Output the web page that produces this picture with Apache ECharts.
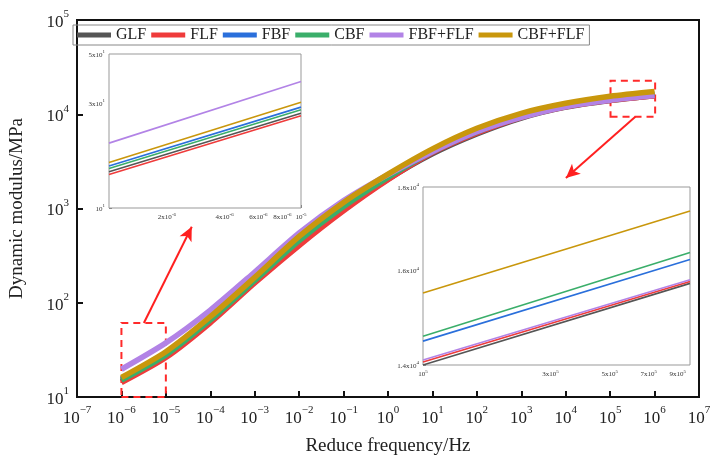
<!DOCTYPE html>
<html><head><meta charset="utf-8">
<script src="https://cdn.jsdelivr.net/npm/echarts@6/dist/echarts.min.js"></script>
<style>html,body{margin:0;padding:0;background:#fff}#c{width:722px;height:466px}</style>
</head><body><div id="c"></div>
<script>
// ---- data ----
const freq = [1e-6,1e-5,1e-4,1e-3,1e-2,1e-1,1,10,100,1e3,1e4,1e5,1e6];
const seriesNames = ['GLF','FLF','FBF','CBF','FBF+FLF','CBF+FLF'];
const GLF    = [14.6,26.9,63.4,166,425,977,2042,3802,6180,9120,11912,14000,15710];
const FLF    = [14.2,26.2,61.2,162,405,944,2018,3917,6324,9268,11967,14060,15750];
const FBF    = [15.5,28.7,67.1,176,465,1072,2163,4027,6531,9484,12303,14480,16250];
const CBF    = [15.1,27.9,65.6,172,455,1047,2138,4009,6531,9528,12359,14580,16410];
const FBF_FLF= [19.7,37.5,83.6,212,550,1215,2291,4009,6531,9268,12023,14100,15790];
const CBF_FLF= [16.1,30.2,71.1,186,505,1161,2317,4295,7096,10233,13062,15500,17400];
const inset1XTicks = [2e-6,4e-6,6e-6,8e-6,1e-5];
const inset1XLabels = [['2x10','-6'],['4x10','-6'],['6x10','-6'],['8x10','-6'],['10','-5']];
const inset1YTicks = [10,30,50];
const inset1YLabels = [['10','1'],['3x10','1'],['5x10','1']];
const inset2XTicks = [1e5,3e5,5e5,7e5,9e5];
const inset2XLabels = [['10','5'],['3x10','5'],['5x10','5'],['7x10','5'],['9x10','5']];
const inset2YTicks = [14000,16000,18000];
const inset2YLabels = [['1.4x10','4'],['1.6x10','4'],['1.8x10','4']];
const zoomBoxes = [[[1e-6,10],[1e-5,61]],[[1.02e5,9400],[1.03e6,22700]]];
const arrows = [[[3.2e-6,61],[3.83e-5,641]],[[3.69e5,9400],[1.01e4,2110]]];
// ---- style ----
const colors = ['#555555','#ef3b3b','#2a6fdb','#3aae6a','#b283e6','#c9970c'];
const allData = [GLF,FLF,FBF,CBF,FBF_FLF,CBF_FLF];
const SERIF = 'Liberation Serif';

function sup(b, s){ return '{b|'+b+'}{s|'+s+'}'; }
const mainRich = {
  b:{fontFamily:SERIF,fontSize:17,color:'#222',lineHeight:22,verticalAlign:'bottom'},
  s:{fontFamily:SERIF,fontSize:11,color:'#222',lineHeight:12,verticalAlign:'top'}
};
const smallRich = {
  b:{fontFamily:SERIF,fontSize:7,color:'#333',lineHeight:9,verticalAlign:'bottom'},
  s:{fontFamily:SERIF,fontSize:5,color:'#333',lineHeight:5,verticalAlign:'top'}
};
function expFmt(v){ const e = Math.round(Math.log10(v)); return sup('10', e<0 ? '\u2212'+(-e) : e); }
function lookupFmt(ticks, labels){
  const logs = ticks.map(Math.log10);
  return function(v){
    for (let i=0;i<logs.length;i++) if (Math.abs(logs[i]-v)<1e-6) return sup(labels[i][0], labels[i][1]);
    return '';
  };
}
const L10 = a => a.map(Math.log10);
const hidden = {axisLine:{show:false},axisTick:{show:false},axisLabel:{show:false},splitLine:{show:false}};

const grids = [
  {left:72,right:23,top:20,bottom:69,show:true,borderColor:'#111',borderWidth:2},
  {left:109,right:421,top:54,bottom:258,show:true,borderColor:'#999',borderWidth:1,backgroundColor:'#fff',z:3},
  {left:423,right:32,top:187,bottom:101,show:true,borderColor:'#999',borderWidth:1,backgroundColor:'#fff',z:3}
];

const xAxes = [
  Object.assign({type:'log',gridIndex:0,position:'bottom',min:1e-7,max:1e7,interval:1,logBase:10,
   name:'Reduce frequency/Hz',nameLocation:'middle',nameGap:40,
   nameTextStyle:{fontFamily:SERIF,fontSize:19,color:'#222'}},
   {axisLine:{show:false},axisTick:{inside:true,length:6,lineStyle:{width:2,color:'#111'}},
   axisLabel:{margin:8,formatter:expFmt,rich:mainRich},splitLine:{show:false}}),
  Object.assign({type:'log',gridIndex:1,position:'top',min:1e-6,max:1e-5}, hidden),
  {type:'value',gridIndex:1,position:'bottom',min:-6,max:-5,axisLine:{show:false},
   axisTick:{inside:true,length:3,lineStyle:{color:'#777'},customValues:L10(inset1XTicks)},
   axisLabel:{margin:4,customValues:L10(inset1XTicks),formatter:lookupFmt(inset1XTicks,inset1XLabels),rich:smallRich},splitLine:{show:false}},
  Object.assign({type:'log',gridIndex:2,position:'top',min:1e5,max:1e6}, hidden),
  {type:'value',gridIndex:2,position:'bottom',min:5,max:6,axisLine:{show:false},
   axisTick:{inside:true,length:3,lineStyle:{color:'#777'},customValues:L10(inset2XTicks)},
   axisLabel:{margin:4,customValues:L10(inset2XTicks),formatter:lookupFmt(inset2XTicks,inset2XLabels),rich:smallRich},splitLine:{show:false}}
];
const yAxes = [
  {type:'log',gridIndex:0,position:'left',min:10,max:1e5,interval:1,logBase:10,
   name:'Dynamic modulus/MPa',nameLocation:'middle',nameGap:50,
   nameTextStyle:{fontFamily:SERIF,fontSize:19,color:'#222'},
   axisLine:{show:false},axisTick:{inside:true,length:6,lineStyle:{width:2,color:'#111'}},
   axisLabel:{margin:8,formatter:expFmt,rich:mainRich},splitLine:{show:false}},
  Object.assign({type:'log',gridIndex:1,position:'right',min:10,max:50}, hidden),
  {type:'value',gridIndex:1,position:'left',min:1,max:Math.log10(50),axisLine:{show:false},
   axisTick:{inside:true,length:3,lineStyle:{color:'#777'},customValues:L10(inset1YTicks)},
   axisLabel:{margin:4,customValues:L10(inset1YTicks),formatter:lookupFmt(inset1YTicks,inset1YLabels),rich:smallRich},splitLine:{show:false}},
  Object.assign({type:'log',gridIndex:2,position:'right',min:14000,max:18000}, hidden),
  {type:'value',gridIndex:2,position:'left',min:Math.log10(14000),max:Math.log10(18000),axisLine:{show:false},
   axisTick:{inside:true,length:3,lineStyle:{color:'#777'},customValues:L10(inset2YTicks)},
   axisLabel:{margin:4,customValues:L10(inset2YTicks),formatter:lookupFmt(inset2YTicks,inset2YLabels),rich:smallRich},splitLine:{show:false}}
];

const series = [];
seriesNames.forEach((n,i)=>{
  const d = allData[i];
  series.push({name:n,type:'line',xAxisIndex:0,yAxisIndex:0,symbol:'none',smooth:0.25,
    data:freq.map((f,k)=>[f,d[k]]),lineStyle:{width:5.5,color:colors[i]},itemStyle:{color:colors[i]},z:2});
  series.push({name:n,type:'line',xAxisIndex:1,yAxisIndex:1,symbol:'none',
    data:freq.slice(0,2).map((f,k)=>[f,d[k]]),lineStyle:{width:1.6,color:colors[i]},itemStyle:{color:colors[i]},z:4});
  series.push({name:n,type:'line',xAxisIndex:3,yAxisIndex:3,symbol:'none',
    data:freq.slice(11,13).map((f,k)=>[f,d[11+k]]),lineStyle:{width:1.6,color:colors[i]},itemStyle:{color:colors[i]},z:4});
});
// annotations
series.push({type:'line',xAxisIndex:0,yAxisIndex:0,data:[],silent:true,z:5,
  markArea:{silent:true,itemStyle:{color:'rgba(0,0,0,0)',borderColor:'#ff2a2a',borderWidth:2,borderType:[7,5]},
    data:zoomBoxes.map(b=>[{coord:b[0]},{coord:b[1]}])},
  markLine:{silent:true,symbol:['none','arrow'],symbolSize:[10,14],label:{show:false},
    lineStyle:{color:'#ff2020',width:2,type:'solid'},
    data:arrows.map(a=>[{coord:a[0]},{coord:a[1]}])}
});

const chart = echarts.init(document.getElementById('c'));
chart.setOption({
  animation:false,
  grid:grids, xAxis:xAxes, yAxis:yAxes,
  legend:{data:seriesNames,left:73,top:25,padding:[2,5,2,4],itemGap:5,itemWidth:34,itemHeight:5,
    icon:'rect',borderColor:'#888',borderWidth:1,
    textStyle:{fontFamily:SERIF,fontSize:16,color:'#222'}},
  series:series
});
</script></body></html>
